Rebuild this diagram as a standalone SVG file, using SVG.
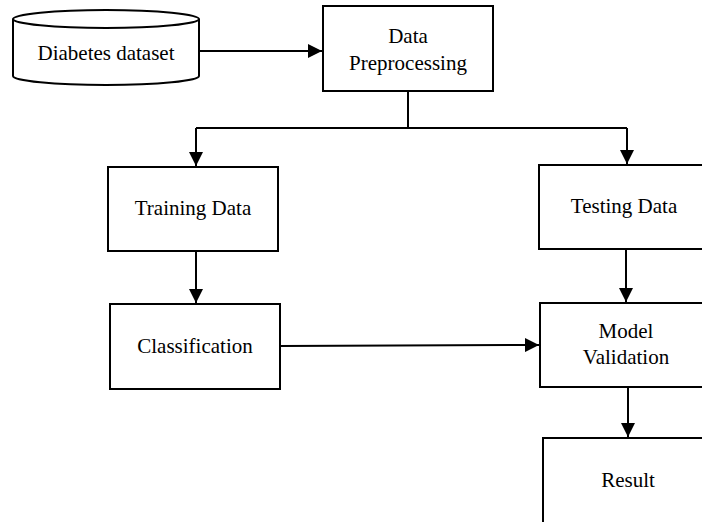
<svg xmlns="http://www.w3.org/2000/svg" width="702" height="522" viewBox="0 0 702 522">
<style>
.box{fill:#fff;stroke:#000;stroke-width:2}
.t{font-family:"Liberation Serif","Times New Roman",serif;font-size:21px;fill:#000;text-anchor:middle}
.c{fill:none;stroke:#000;stroke-width:2}
</style>
<defs>
<marker id="ah" viewBox="0 0 14 14" refX="14" refY="7" markerWidth="14" markerHeight="14" markerUnits="userSpaceOnUse" orient="auto">
<path d="M0,0 L14,7 L0,14 Z" fill="#000"/>
</marker>
</defs>
<rect width="702" height="522" fill="#fff"/>
<g id="connectors">
<path class="c" d="M199,51 L322,51" marker-end="url(#ah)"/>
<path class="c" d="M408,92 L408,128"/>
<path class="c" d="M196,128 L627,128"/>
<path class="c" d="M196,128 L196,166" marker-end="url(#ah)"/>
<path class="c" d="M627,128 L627,164" marker-end="url(#ah)"/>
<path class="c" d="M196,251 L196,303" marker-end="url(#ah)"/>
<path class="c" d="M626,249 L626,302" marker-end="url(#ah)"/>
<path class="c" d="M281,346 L539,345" marker-end="url(#ah)"/>
<path class="c" d="M628,387 L628,437" marker-end="url(#ah)"/>
</g>
<g id="diabetes-dataset">
<path class="box" d="M13,19 L13,76 A93,9 0 0 0 199,76 L199,19"/>
<ellipse class="box" cx="106" cy="19" rx="93" ry="9"/>
<text class="t" x="106" y="60">Diabetes dataset</text>
</g>
<g id="data-preprocessing">
<rect class="box" x="323" y="6" width="170" height="85"/>
<text class="t" x="408" y="43">Data</text>
<text class="t" x="408" y="70">Preprocessing</text>
</g>
<g id="training-data">
<rect class="box" x="108" y="167" width="170" height="84"/>
<text class="t" x="193" y="215">Training Data</text>
</g>
<g id="testing-data">
<rect class="box" x="539" y="165" width="170" height="84"/>
<text class="t" x="624" y="213">Testing Data</text>
</g>
<g id="classification">
<rect class="box" x="110" y="304" width="170" height="85"/>
<text class="t" x="195" y="353">Classification</text>
</g>
<g id="model-validation">
<rect class="box" x="540" y="303" width="170" height="84"/>
<text class="t" x="626" y="338">Model</text>
<text class="t" x="626" y="364">Validation</text>
</g>
<g id="result">
<rect class="box" x="543" y="438" width="170" height="100"/>
<text class="t" x="628" y="487">Result</text>
</g>
</svg>
